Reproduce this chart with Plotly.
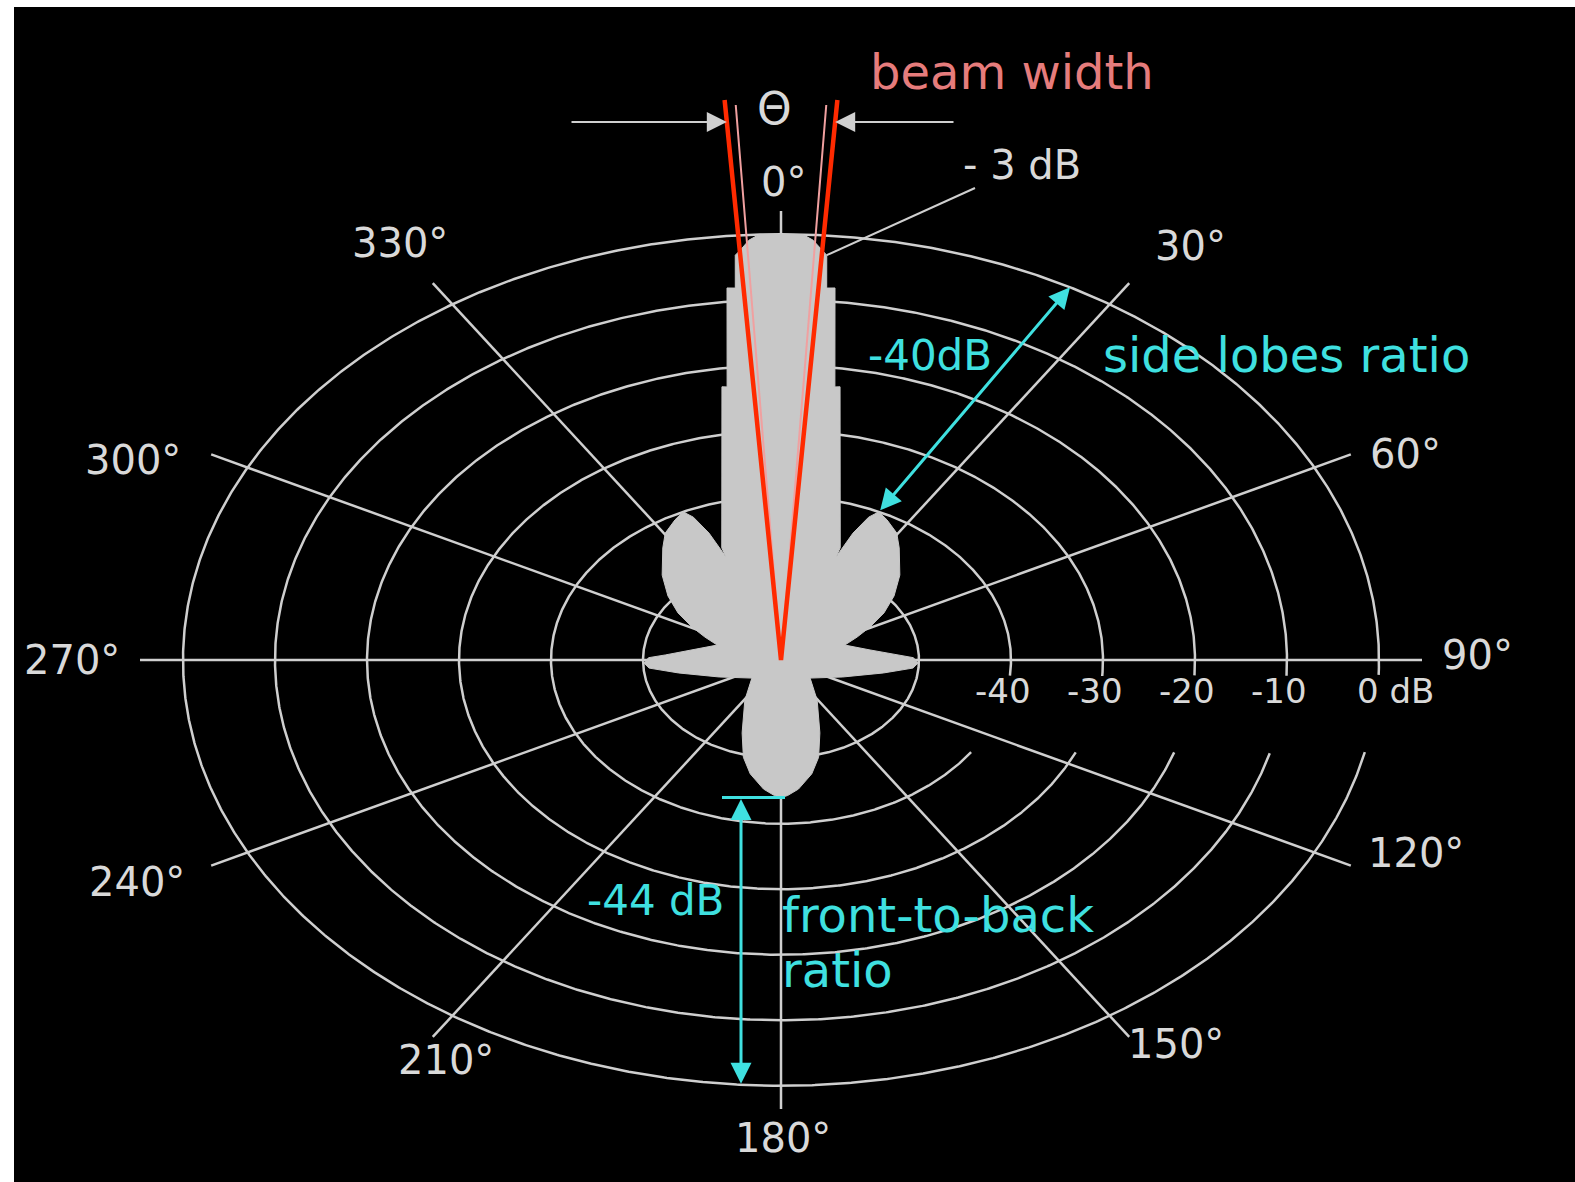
import numpy as np
import plotly.graph_objects as go

# ---------------------------------------------------------------- data
RING_DB = [0, -10, -20, -30, -40, -50]
SCALE_TICK_DB = [-40, -30, -20, -10, 0]
SCALE_TICK_TEXT = ["-40", "-30", "-20", "-10", "0 dB"]

SPOKE_DEG = [0, 30, 60, 90, 120, 150, 180, 210, 240, 270, 300, 330]
SPOKE_TEXT = ["0°", "30°", "60°", "90°", "120°", "150°",
              "180°", "210°", "240°", "270°", "300°", "330°"]

# radiation pattern, right half (0..180 deg); the left half is its mirror
LOBE_DEG = [0, 2.1, 3.1, 4.0, 4.6, 5.0, 5.9, 8.0, 8.75, 20.6,
            20.8, 22.0, 23.6, 25.2, 28.3, 33.0, 36.9, 44.9, 51.5, 57.3, 62.5, 67.0, 71.8,
            81.0, 86.5, 88.6, 91.8, 94.9, 100.1, 111.1, 131.1,
            147.4, 159.2, 164.6, 169.1, 174.5, 178.0, 180.0]
LOBE_DB = [0, 0, -0.8, -2.2, -3.0, -8.0, -7.9, -22.9, -22.8, -46.7,
           -48.2, -44.1, -41.2, -40.0, -40.7, -41.9, -43.6, -46.7, -49.3, -51.7, -54.1, -56.0, -57.7,
           -55.2, -52.4, -50.6, -50.1, -50.6, -53.7, -57.8, -60.8,
           -57.7, -53.1, -49.6, -47.3, -45.2, -44.3, -44.0]

BEAM_HALF_DEG = 4.1       # half of the -3 dB beam width
HALF_POWER_DB = -3.0
SIDE_LOBE_DEG = 25.2      # first side lobe peak
SIDE_LOBE_DB = -40.0
BACK_LOBE_DB = -44.0      # front-to-back ratio

# ---------------------------------------------------------------- geometry / style
W, H = 1575, 1182
CX, CY = 781, 660          # pole, page pixels
LEFT_PAD, TOP_PAD = 14, 7
FLOOR_DB = -65.0           # level at the pole
SX, SY = 9.2, 6.55         # px per dB, horizontal / vertical (elliptic grid)
SPOKE_SKEW = 1.6
SPOKE_A, SPOKE_B = 641, 449

GRID = "#cfcfcf"
TEXT = "#d9d9d9"
FILL = "#c8c8c8"
CYAN = "#3fe0e0"
RED = "#ff2a00"
PINK = "#f0a0a0"
SALMON = "#e67c7c"
FONT = "DejaVu Sans"


def to_xy(theta_deg, db):
    r = np.asarray(db, dtype=float) - FLOOR_DB
    t = np.radians(np.asarray(theta_deg, dtype=float))
    return SX * r * np.sin(t), SY * r * np.cos(t)


def page(px, py):
    return px - CX, CY - py


def spoke_end(theta_deg):
    t = np.radians(theta_deg)
    ux, uy = SPOKE_SKEW * np.sin(t), np.cos(t)
    n = np.hypot(ux, uy)
    ux, uy = ux / n, uy / n
    L = 1.0 / np.sqrt(ux ** 2 / SPOKE_A ** 2 + uy ** 2 / SPOKE_B ** 2)
    return L * ux, L * uy


def clean(a):
    return [None if (v is None or np.isnan(v)) else float(v) for v in a]


def lines(xs, ys, color, width):
    return go.Scatter(x=xs, y=ys, mode="lines", line=dict(color=color, width=width),
                      hoverinfo="skip", showlegend=False)


fig = go.Figure()

# ---- rings (gap left for the dB scale text)
rx, ry = [], []
th = np.linspace(0, 360, 1441)
for db in RING_DB:
    x, y = to_xy(th, db)
    if db >= -40:
        gap = (x > 164) & (y < -16) & (y > -92)
        x = np.where(gap, np.nan, x)
        y = np.where(gap, np.nan, y)
    rx += clean(x) + [None]
    ry += clean(y) + [None]
fig.add_trace(lines(rx, ry, GRID, 2.5))

# ---- spokes
sx_, sy_ = [], []
for d in SPOKE_DEG:
    ex, ey = spoke_end(d)
    sx_ += [0, ex, None]
    sy_ += [0, ey, None]
fig.add_trace(lines(sx_, sy_, GRID, 2.5))

# ---- pattern
full_deg = LOBE_DEG + [360 - d for d in reversed(LOBE_DEG[:-1])]
full_db = LOBE_DB + list(reversed(LOBE_DB[:-1]))
px_, py_ = to_xy(full_deg, full_db)
fig.add_trace(go.Scatter(x=px_, y=py_, mode="lines", fill="toself", fillcolor=FILL,
                         line=dict(color=FILL, width=1), hoverinfo="skip", showlegend=False))

# ---- beam width lines through the -3 dB points
BEAM_TOP = 560
hx, hy = to_xy(BEAM_HALF_DEG, HALF_POWER_DB)
slope = hx / hy
fig.add_trace(lines([-0.81 * slope * 555, 0, 0.81 * slope * 555], [555, 0, 555], PINK, 2))
fig.add_trace(lines([-slope * BEAM_TOP, 0, slope * BEAM_TOP], [BEAM_TOP, 0, BEAM_TOP], RED, 4.5))

# ---- -3 dB leader to the lobe edge
i3 = LOBE_DB.index(HALF_POWER_DB)
e3x, e3y = to_xy(LOBE_DEG[i3], LOBE_DB[i3])
lx, ly = page(975, 188)
fig.add_trace(lines([e3x, lx], [e3y, ly], GRID, 2))

# ---- front-to-back marker
_, back_y = to_xy(180, BACK_LOBE_DB)
_, ring_y = to_xy(180, 0)
fb_x = -40
fig.add_trace(lines([-59, 4], [back_y, back_y], CYAN, 3))

ann = []


def arrow(x0, y0, x1, y1, color, width, both=False, size=1.3):
    ann.append(dict(x=x1, y=y1, ax=x0, ay=y0, xref="x", yref="y", axref="x", ayref="y",
                    text="", showarrow=True, arrowhead=2, arrowsize=size, arrowwidth=width,
                    arrowcolor=color, arrowside="end+start" if both else "end",
                    standoff=0, startstandoff=0))


arrow(fb_x, back_y, fb_x, ring_y + 2, CYAN, 3, both=True, size=1.4)

# side lobe ratio arrow: side lobe peak -> 0 dB ring
s0x, s0y = to_xy(SIDE_LOBE_DEG, SIDE_LOBE_DB)
s1x, s1y = to_xy(28.9, 0)
arrow(s0x, s0y, s1x, s1y, CYAN, 3, both=True, size=1.4)

# beam width arrows
yb = CY - 122
arrow(page(570, 0)[0], yb, -slope * yb, yb, GRID, 2, size=2)
arrow(page(955, 0)[0], yb, slope * yb, yb, GRID, 2, size=2)


def label(text, px, py, size, color=TEXT, anchor="center"):
    x, y = page(px, py)
    ann.append(dict(x=x, y=y, xref="x", yref="y", text=text, showarrow=False,
                    xanchor=anchor, yanchor="middle",
                    font=dict(family=FONT, size=size, color=color)))


SPOKE_LABEL_AT = [(783, 182), (1190, 246), (1405, 454), (1477, 655), (1416, 853),
                  (1176, 1044), (783, 1138), (446, 1060), (137, 882), (72, 660),
                  (133, 460), (400, 243)]
for t, (px, py) in zip(SPOKE_TEXT, SPOKE_LABEL_AT):
    label(t, px, py, 40)

for db, t in zip(SCALE_TICK_DB, SCALE_TICK_TEXT):
    rxp, _ = to_xy(90, db)
    if t == "0 dB":
        label(t, CX + rxp - 24, 691, 34, anchor="left")
    else:
        label(t, CX + rxp - 8, 691, 34)

label("beam width", 1012, 72, 48, color=SALMON)
label("Θ", 774, 108, 44)
label("- 3 dB", 1022, 165, 40)
label("-40dB", 930, 355, 42, color=CYAN)
label("side lobes ratio", 1286, 355, 48, color=CYAN)
label("-44 dB", 655, 900, 42, color=CYAN)
label("front-to-back", 780, 915, 48, color=CYAN, anchor="left")
label("ratio", 780, 970, 48, color=CYAN, anchor="left")

fig.update_layout(
    width=W, height=H,
    margin=dict(l=0, r=0, t=0, b=0, pad=0),
    paper_bgcolor="white", plot_bgcolor="black",
    showlegend=False,
    annotations=ann,
    xaxis=dict(range=[LEFT_PAD - CX, W - CX], domain=[LEFT_PAD / W, 1],
               visible=False, showgrid=False, zeroline=False, fixedrange=True),
    yaxis=dict(range=[CY - H, CY - TOP_PAD], domain=[0, 1 - TOP_PAD / H],
               visible=False, showgrid=False, zeroline=False, fixedrange=True),
)

fig.write_html("out.html")
